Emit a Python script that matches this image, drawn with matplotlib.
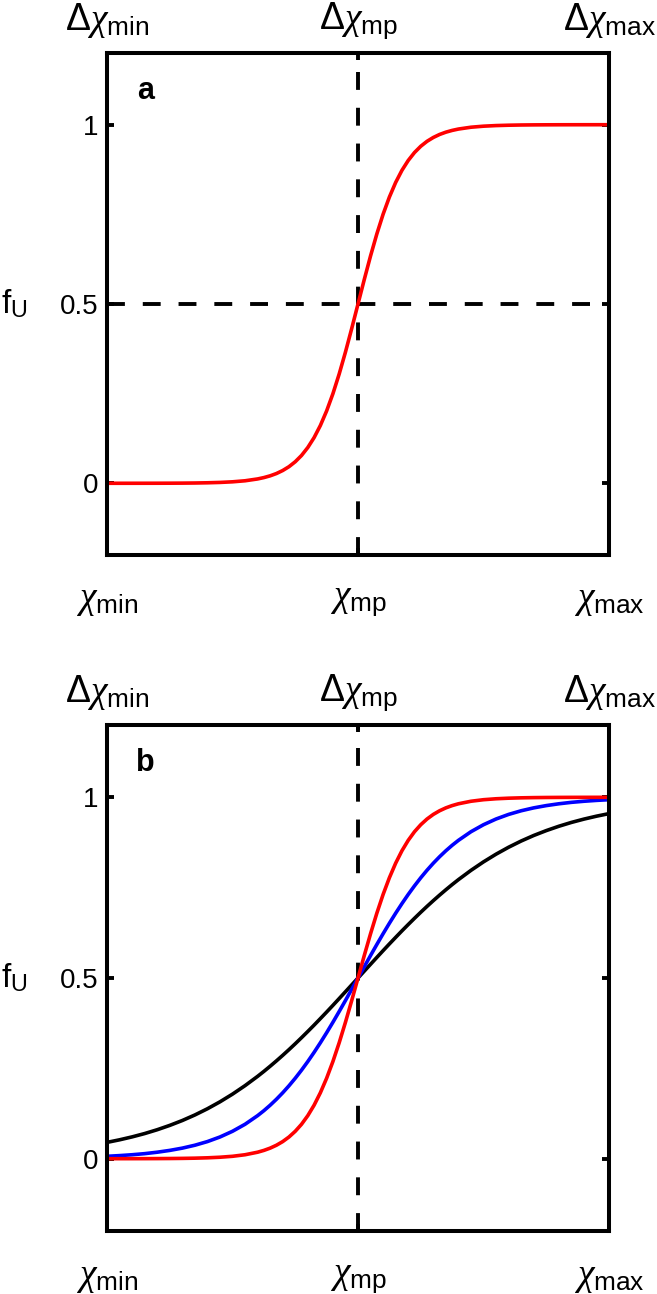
import matplotlib.pyplot as plt

plt.rcParams['font.family'] = ['Liberation Sans', 'DejaVu Sans']
plt.rcParams['mathtext.fontset'] = 'custom'
plt.rcParams['mathtext.rm'] = 'Liberation Sans'
plt.rcParams['mathtext.it'] = 'Liberation Serif:italic'
plt.rcParams['mathtext.bf'] = 'Liberation Sans:bold'

# position along the chi axis: 0 = chi_min, 0.5 = chi_mp, 1 = chi_max
x = [0, 0.025, 0.05, 0.075, 0.1, 0.125, 0.15, 0.175, 0.2, 0.225, 0.25, 0.275, 0.3,
     0.3125, 0.325, 0.3375, 0.35, 0.3625, 0.375, 0.3875, 0.4, 0.4125, 0.425, 0.4375,
     0.45, 0.4625, 0.475, 0.4875, 0.5, 0.5125, 0.525, 0.5375, 0.55, 0.5625, 0.575,
     0.5875, 0.6, 0.6125, 0.625, 0.6375, 0.65, 0.6625, 0.675, 0.6875,
     0.7, 0.725, 0.75, 0.775, 0.8, 0.825, 0.85, 0.875, 0.9, 0.925, 0.95, 0.975, 1.0]

# panel a, red curve
fu_a = [0.00002, 0.00003, 0.00005, 0.00009, 0.00015, 0.00026, 0.00045, 0.00078,
        0.0014, 0.0024, 0.0041, 0.0070, 0.0121, 0.0159, 0.0208, 0.0272, 0.0356,
        0.0463, 0.0601, 0.0776, 0.0998, 0.1273, 0.1611, 0.2018, 0.2497, 0.3047,
        0.3659, 0.4317, 0.5,
        0.5683, 0.6341, 0.6953, 0.7503, 0.7982, 0.8389, 0.8727, 0.9002, 0.9224,
        0.9399, 0.9537, 0.9644, 0.9728, 0.9792, 0.9841, 0.9879, 0.9930, 0.9959,
        0.9976, 0.9986, 0.99922, 0.99955, 0.99974, 0.99985, 0.99991, 0.99995,
        0.99997, 0.99998]

# panel b, three curves of different steepness
fu_red = [0.00005, 0.00008, 0.00012, 0.0002, 0.00034, 0.00055, 0.00091, 0.0015,
          0.0025, 0.0041, 0.0067, 0.0110, 0.0180, 0.0230, 0.0293, 0.0373, 0.0474,
          0.0601, 0.0759, 0.0953, 0.1192, 0.1480, 0.1824, 0.2227, 0.2689, 0.3208,
          0.3775, 0.4378, 0.5,
          0.5622, 0.6225, 0.6792, 0.7311, 0.7773, 0.8176, 0.8520, 0.8808, 0.9047,
          0.9241, 0.9399, 0.9526, 0.9627, 0.9707, 0.9770, 0.9820, 0.9890, 0.9933,
          0.9959, 0.9975, 0.9985, 0.99909, 0.99945, 0.99966, 0.9998, 0.99988,
          0.99992, 0.99995]
fu_blue = [0.0067, 0.0086, 0.0110, 0.0140, 0.0180, 0.0230, 0.0293, 0.0373, 0.0474,
           0.0601, 0.0759, 0.0953, 0.1192, 0.1329, 0.1480, 0.1645, 0.1824, 0.2018,
           0.2227, 0.2451, 0.2689, 0.2942, 0.3208, 0.3486, 0.3775, 0.4073, 0.4378,
           0.4688, 0.5,
           0.5312, 0.5622, 0.5927, 0.6225, 0.6514, 0.6792, 0.7058, 0.7311, 0.7549,
           0.7773, 0.7982, 0.8176, 0.8355, 0.8520, 0.8671, 0.8808, 0.9047, 0.9241,
           0.9399, 0.9526, 0.9627, 0.9707, 0.9770, 0.9820, 0.9860, 0.9890, 0.9914,
           0.9933]
fu_black = [0.0452, 0.0523, 0.0604, 0.0696, 0.0802, 0.0922, 0.1057, 0.1210, 0.1382,
            0.1574, 0.1787, 0.2022, 0.2279, 0.2416, 0.2559, 0.2707, 0.2860, 0.3018,
            0.3181, 0.3349, 0.3521, 0.3696, 0.3876, 0.4058, 0.4243, 0.4431, 0.4620,
            0.4810, 0.5,
            0.5190, 0.5380, 0.5569, 0.5757, 0.5942, 0.6124, 0.6304, 0.6479, 0.6651,
            0.6819, 0.6982, 0.7140, 0.7293, 0.7441, 0.7584, 0.7721, 0.7978, 0.8213,
            0.8426, 0.8618, 0.8790, 0.8943, 0.9078, 0.9198, 0.9304, 0.9396, 0.9477,
            0.9548]

tick_pos = [0, 0.5, 1]
bottom_labels = [r'$\chi_{\mathrm{min}}$', r'$\chi_{\mathrm{mp}}$', r'$\chi_{\mathrm{max}}$']
top_labels = [r'$\Delta\chi_{\mathrm{min}}$', r'$\Delta\chi_{\mathrm{mp}}$', r'$\Delta\chi_{\mathrm{max}}$']
y_ticks = [0, 0.5, 1]
y_ticklabels = ['0', '0.5', '1']

W, H = 657, 1294
fig = plt.figure(figsize=(W / 100, H / 100), dpi=100)
ax_a = fig.add_axes([107 / W, 1 - 555 / H, 502 / W, 502 / H])
ax_b = fig.add_axes([107 / W, 1 - 1231 / H, 502 / W, 506 / H])

dash = (4.6, 4.6)


def style(ax, letter):
    ax.set_xlim(0, 1)
    ax.set_ylim(-0.2, 1.2)
    ax.set_xticks(tick_pos)
    ax.set_yticks(y_ticks)
    ax.set_yticklabels(y_ticklabels, fontsize=20)
    ax.tick_params(direction='in', length=5, width=2.8, top=True, right=True,
                   labelbottom=False, pad=6)
    for s in ax.spines.values():
        s.set_linewidth(2.9)
    tr = ax.get_xaxis_transform()
    for xp, lab in zip(tick_pos, bottom_labels):
        ax.text(xp, -0.09, lab, transform=tr, ha='center', va='center', fontsize=27)
    for xp, lab in zip(tick_pos, top_labels):
        ax.text(xp, 1.065, lab, transform=tr, ha='center', va='center', fontsize=27)
    ax.text(-0.185, 0.5, r'$\mathrm{f}_{\mathrm{U}}$', transform=ax.get_yaxis_transform(),
            ha='center', va='center', fontsize=24)
    ax.text(0.076, 0.925, letter, transform=ax.transAxes, ha='center', va='center',
            fontsize=22, fontweight='bold')
    ax.axvline(0.5, color='black', linewidth=2.8, dashes=dash)


style(ax_a, 'a')
ax_a.axhline(0.5, color='black', linewidth=2.8, dashes=dash)
ax_a.plot(x, fu_a, color='red', linewidth=2.6)

style(ax_b, 'b')
ax_b.plot(x, fu_black, color='black', linewidth=2.6)
ax_b.plot(x, fu_blue, color='blue', linewidth=2.6)
ax_b.plot(x, fu_red, color='red', linewidth=2.6)

fig.savefig('out.png', dpi=100)
